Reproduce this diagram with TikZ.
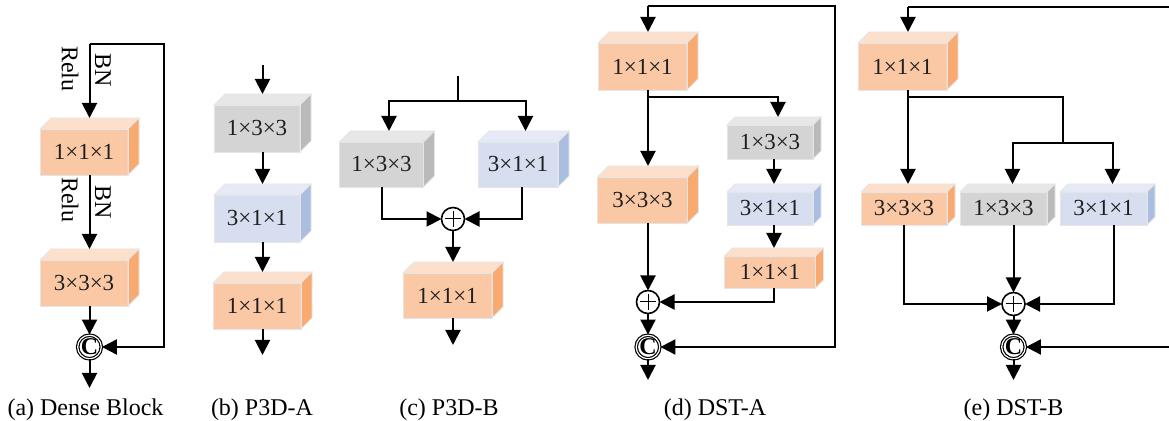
\documentclass[tikz,border=0pt]{standalone}
\usepackage{fontspec}
\setmainfont{Liberation Serif}
\newfontfamily\lserif{Liberation Serif}
\usetikzlibrary{arrows.meta,calc}
\definecolor{orF}{HTML}{FBC8A5}
\definecolor{orT}{HTML}{FDE0CC}
\definecolor{orS}{HTML}{F9AA70}
\definecolor{grF}{HTML}{D4D4D4}
\definecolor{grT}{HTML}{E7E7E7}
\definecolor{grS}{HTML}{BABABA}
\definecolor{blF}{HTML}{D7DEF0}
\definecolor{blT}{HTML}{E6EAF6}
\definecolor{blS}{HTML}{AABEE2}
\newcommand\cubebox[8]{%
  \node[cubefront, fill=#7F, minimum width=#4*0.5pt, minimum height=#5*0.5pt] (#1) at (#2,#3) {#8};
  \filldraw[cubeedge, fill=#7T] (#1.north west) -- ++(#6,-#6) -- ++(#4,0) -- (#1.north east) -- cycle;
  \filldraw[cubeedge, fill=#7S] (#1.north east) -- ++(#6,-#6) -- ++(0,#5) -- (#1.south east) -- cycle;
  \draw[cubeedge] (#1.north west) rectangle (#1.south east);
  \path (#1.north) ++(#6/2,-#6) coordinate (#1-t);
  \path (#1.south) ++(#6/2,0) coordinate (#1-b);
}
\begin{document}
\begin{tikzpicture}[x=0.5pt,y=-0.5pt,
  cubefront/.style={rectangle, inner sep=0pt, outer sep=0pt, font=\lserif\fontsize{11.5}{13}\selectfont, text=black!88},
  cubeedge/.style={draw=black!10, line width=0.4pt},
  conn/.style={line width=1pt},
  arr/.style={line width=1pt, -{Triangle[length=7.5pt,width=7.5pt]}},
  opnode/.style={circle, draw, line width=0.8pt, minimum size=11.5pt, inner sep=0pt, outer sep=0pt, fill=white},
  catnode/.style={circle, draw, line width=0.6pt, double, double distance=0.6pt, minimum size=11pt, inner sep=0pt, fill=white, font=\lserif\bfseries\fontsize{12}{12}\selectfont},
  sidelbl/.style={font=\lserif\fontsize{12}{12}\selectfont, rotate=-90, inner sep=0pt},
  captxt/.style={font=\lserif\fontsize{12}{14}\selectfont, inner sep=0pt},
]
\useasboundingbox (0,0) rectangle (1169,421);

% ---------------- (a) Dense Block
\cubebox{A1}{84}{152}{88}{46}{11}{or}{1×1×1}
\cubebox{A2}{84}{283}{88}{46}{11}{or}{3×3×3}
\coordinate (a-in) at (89.5,44);
\coordinate (a-fb) at (164,44);
\node[catnode] (aC) at (89.5,347) {C};
\coordinate (a-out) at (89.5,388);
\draw[arr] (a-in) -- (A1-t);
\draw[arr] (a-in) -- (a-fb) |- (aC.east);
\draw[arr] (A1-b) -- (A2-t);
\draw[arr] (A2-b) -- (aC.north);
\draw[arr] (aC.south) -- (a-out);
\node[sidelbl] (a-relu1) at (70,69) {Relu};
\node[sidelbl] (a-bn1) at (103,70) {BN};
\node[sidelbl] (a-relu2) at (70,200) {Relu};
\node[sidelbl] (a-bn2) at (103,202) {BN};
\node[captxt] (a-cap) at (85.5,410) {(a) Dense Block};

% ---------------- (b) P3D-A
\cubebox{B1}{257}{128.5}{86}{47}{11}{gr}{1×3×3}
\cubebox{B2}{257}{218.5}{86}{47}{11}{bl}{3×1×1}
\cubebox{B3}{257}{306}{88}{46}{11}{or}{1×1×1}
\coordinate (b-in) at (262.5,65);
\coordinate (b-out) at (262.5,355);
\draw[arr] (b-in) -- (B1-t);
\draw[arr] (B1-b) -- (B2-t);
\draw[arr] (B2-b) -- (B3-t);
\draw[arr] (B3-b) -- (b-out);
\node[captxt] (b-cap) at (262,410) {(b) P3D-A};

% ---------------- (c) P3D-B
\coordinate (c-in) at (458,76);
\coordinate (c-split) at (458,101);
\cubebox{C1}{381.5}{164.5}{84}{45}{11}{gr}{1×3×3}
\cubebox{C2}{518}{164.5}{80}{45}{11}{bl}{3×1×1}
\cubebox{C3}{447.5}{295.5}{89}{45}{11}{or}{1×1×1}
\node[opnode] (cP) at (453,219) {};
\draw[line width=0.5pt] ([xshift=-4pt]cP.center) -- ([xshift=4pt]cP.center);
\draw[line width=0.5pt] ([yshift=-4pt]cP.center) -- ([yshift=4pt]cP.center);
\coordinate (c-out) at (453,345);
\draw[conn] (c-in) -- (c-split);
\draw[arr] (c-split) -| ([xshift=1pt]C1-t);
\draw[arr] (c-split) -| ([xshift=1pt]C2-t);
\draw[arr] (C1.south) |- (cP.west);
\draw[arr] ([xshift=2pt]C2.south) |- (cP.east);
\draw[arr] (cP.south) -- (cP.south |- C3-t);
\draw[arr] (C3-b) -- (c-out);
\node[captxt] (c-cap) at (449,410) {(c) P3D-B};

% ---------------- (d) DST-A
\coordinate (d-in) at (648,6);
\coordinate (d-corner) at (835,6);
\cubebox{D1}{642.5}{66.5}{89}{47}{11}{or}{1×1×1}
\cubebox{D2}{642.5}{200}{90}{46}{11}{or}{3×3×3}
\cubebox{D3}{770}{142}{86}{34}{8}{gr}{1×3×3}
\cubebox{D4}{770}{208.5}{86}{33}{8}{bl}{3×1×1}
\cubebox{D5}{770}{272}{91}{32}{8}{or}{1×1×1}
\coordinate (d-split) at (648,97);
\node[opnode] (dP) at (648,302) {};
\draw[line width=0.5pt] ([xshift=-4pt]dP.center) -- ([xshift=4pt]dP.center);
\draw[line width=0.5pt] ([yshift=-4pt]dP.center) -- ([yshift=4pt]dP.center);
\node[catnode] (dC) at (648,347) {C};
\coordinate (d-out) at (648,380);
\draw[arr] (d-in) -- (D1-t);
\draw[arr] (d-in) -- (d-corner) |- (dC.east);
\draw[arr] (D1-b) -- (D2-t);
\draw[arr] (d-split) -| ([xshift=2pt]D3-t);
\draw[arr] (D3-b) -- (D4-t);
\draw[arr] (D4-b) -- (D5-t);
\draw[arr] (D2-b) -- (dP.north);
\draw[arr] (D5-b) |- (dP.east);
\draw[arr] (dP.south) -- (dC.north);
\draw[arr] (dC.south) -- (d-out);
\node[captxt] (d-cap) at (715,410) {(d) DST-A};

% ---------------- (e) DST-B
\coordinate (e-in) at (908,7);
\coordinate (e-end) at (1169,7);
\cubebox{E1}{902.5}{66.5}{89}{47}{11}{or}{1×1×1}
\cubebox{E2}{904}{208.5}{86}{33}{8}{or}{3×3×3}
\cubebox{E3}{1003.5}{208.5}{87}{33}{8}{gr}{1×3×3}
\cubebox{E4}{1103.5}{208.5}{87}{33}{8}{bl}{3×1×1}
\coordinate (e-split) at (908,97);
\coordinate (e-split2) at (1063,97);
\coordinate (e-mid) at (1063,143);
\node[opnode] (eP) at (1013.5,304) {};
\draw[line width=0.5pt] ([xshift=-4pt]eP.center) -- ([xshift=4pt]eP.center);
\draw[line width=0.5pt] ([yshift=-4pt]eP.center) -- ([yshift=4pt]eP.center);
\node[catnode] (eC) at (1013.5,347) {C};
\coordinate (e-fb) at (1169,347);
\coordinate (e-out) at (1013.5,380);
\draw[conn] (e-in) -- (e-end);
\draw[arr] (e-in) -- (E1-t);
\draw[arr] (E1-b) -- (E2-t);
\draw[conn] (e-split) -- (e-split2) -- (e-mid);
\draw[arr] (e-mid) -| ([xshift=2.5pt]E3-t);
\draw[arr] (e-mid) -| ([xshift=2.5pt]E4-t);
\draw[arr] (E2.south) |- (eP.west);
\draw[arr] ([xshift=5pt]E3.south) -- (eP.north);
\draw[arr] ([xshift=5pt]E4.south) |- (eP.east);
\draw[arr] (eP.south) -- (eC.north);
\draw[arr] (e-fb) -- (eC.east);
\draw[arr] (eC.south) -- (e-out);
\node[captxt] (e-cap) at (1013.5,410) {(e) DST-B};
\end{tikzpicture}
\end{document}
